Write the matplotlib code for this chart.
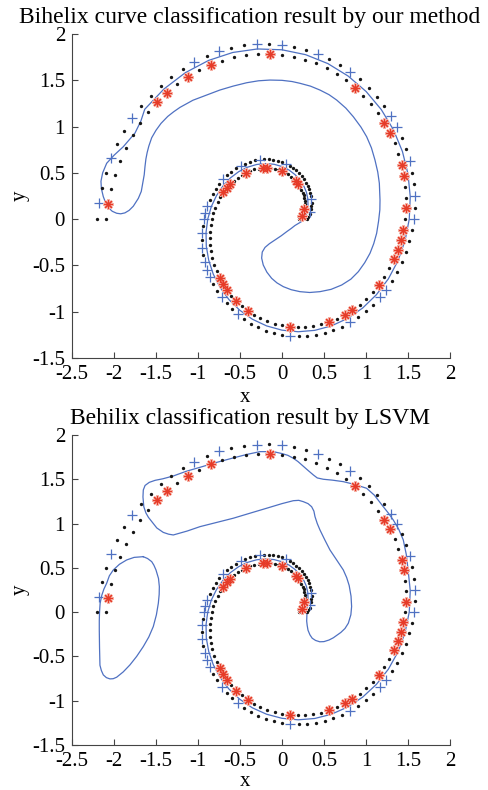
import matplotlib
matplotlib.use("Agg")
import matplotlib.pyplot as plt

# ---- data: the two spiral tracks ----
a_x = [0.300,0.315,0.328,0.338,0.345,0.350,0.352,0.350,0.345,0.337,
       0.324,0.308,0.288,0.264,0.237,0.206,0.171,0.133,0.091,0.047,
       0.000,-0.050,-0.101,-0.155,-0.210,-0.266,-0.323,-0.380,-0.437,-0.493,
       -0.548,-0.601,-0.653,-0.702,-0.747,-0.789,-0.827,-0.862,-0.891,-0.915,
       -0.933,-0.946,-0.953,-0.954,-0.948,-0.936,-0.916,-0.890,-0.858,-0.818,
       -0.772,-0.720,-0.660,-0.595,-0.524,-0.448,-0.367,-0.281,-0.190,-0.097,
       0.000,0.099,0.201,0.303,0.406,0.509,0.611,0.711,0.809,0.905,
       0.996,1.083,1.165,1.241,1.312,1.375,1.430,1.477,1.516,1.546,
       1.567,1.578,1.578,1.569,1.550,1.521,1.481,1.431,1.370,1.300,
       1.220,1.131,1.033,0.926,0.812,0.690,0.562,0.429,0.290,0.147,
       0.000,-0.149,-0.300,-0.451,-0.602,-0.751,-0.898,-1.042,-1.181,-1.316,
       -1.444,-1.565,-1.677,-1.781,-1.876,-1.960,-2.033,-2.093,-2.141,-2.177,
       -2.200]
a_y = [0.000,0.025,0.052,0.081,0.112,0.145,0.179,0.215,0.251,0.288,
       0.324,0.360,0.396,0.431,0.465,0.497,0.526,0.553,0.578,0.599,
       0.617,0.631,0.640,0.646,0.647,0.643,0.634,0.621,0.601,0.577,
       0.548,0.514,0.474,0.430,0.380,0.327,0.269,0.207,0.141,0.072,
       0.000,-0.074,-0.151,-0.229,-0.308,-0.388,-0.467,-0.545,-0.623,-0.699,
       -0.772,-0.843,-0.909,-0.971,-1.029,-1.082,-1.129,-1.170,-1.203,-1.230,
       -1.250,-1.262,-1.266,-1.262,-1.249,-1.228,-1.198,-1.160,-1.114,-1.059,
       -0.996,-0.925,-0.846,-0.761,-0.668,-0.569,-0.464,-0.355,-0.240,-0.122,
       0.000,0.124,0.250,0.377,0.504,0.630,0.755,0.877,0.995,1.110,
       1.220,1.324,1.421,1.512,1.593,1.667,1.731,1.785,1.829,1.862,
       1.883,1.893,1.891,1.878,1.852,1.814,1.762,1.700,1.626,1.541,
       1.444,1.336,1.219,1.092,0.956,0.812,0.660,0.502,0.339,0.171,
       0.000]
b_x = [0.206,0.221,0.234,0.246,0.256,0.263,0.267,0.269,0.269,0.264,
       0.257,0.246,0.232,0.214,0.193,0.169,0.141,0.110,0.076,0.040,
       0.000,-0.042,-0.086,-0.132,-0.180,-0.229,-0.279,-0.329,-0.380,-0.430,
       -0.479,-0.527,-0.574,-0.617,-0.659,-0.698,-0.733,-0.765,-0.793,-0.816,
       -0.834,-0.847,-0.855,-0.857,-0.853,-0.844,-0.828,-0.805,-0.777,-0.742,
       -0.701,-0.654,-0.601,-0.543,-0.479,-0.409,-0.336,-0.257,-0.175,-0.089,
       0.000,0.091,0.185,0.279,0.374,0.470,0.564,0.657,0.749,0.838,
       0.923,1.005,1.082,1.154,1.219,1.279,1.332,1.376,1.413,1.443,
       1.463,1.473,1.476,1.468,1.450,1.424,1.387,1.341,1.285,1.220,
       1.146,1.062,0.970,0.871,0.764,0.650,0.530,0.404,0.273,0.138,
       0.000,-0.141,-0.283,-0.426,-0.569,-0.710,-0.849,-0.986,-1.118,-1.246,
       -1.368,-1.483,-1.590,-1.689,-1.779,-1.859,-1.929,-1.988,-2.035,-2.069,
       -2.091]
b_y = [0.000,0.017,0.037,0.059,0.083,0.109,0.136,0.165,0.195,0.225,
       0.257,0.288,0.319,0.350,0.380,0.408,0.435,0.460,0.483,0.502,
       0.520,0.534,0.545,0.551,0.554,0.553,0.547,0.537,0.523,0.503,
       0.479,0.450,0.417,0.378,0.336,0.289,0.238,0.184,0.126,0.064,
       0.000,-0.067,-0.135,-0.206,-0.277,-0.349,-0.422,-0.493,-0.564,-0.634,
       -0.701,-0.766,-0.828,-0.886,-0.939,-0.989,-1.033,-1.071,-1.103,-1.129,
       -1.148,-1.160,-1.165,-1.163,-1.152,-1.134,-1.108,-1.073,-1.031,-0.981,
       -0.923,-0.858,-0.786,-0.707,-0.621,-0.530,-0.433,-0.330,-0.224,-0.114,
       0.000,0.116,0.234,0.352,0.471,0.590,0.707,0.822,0.933,1.042,
       1.146,1.243,1.336,1.421,1.499,1.569,1.630,1.682,1.724,1.756,
       1.777,1.786,1.786,1.774,1.750,1.714,1.667,1.609,1.539,1.458,
       1.368,1.266,1.155,1.035,0.907,0.770,0.627,0.477,0.322,0.163,
       0.000]

# indices of the points drawn as test markers
plus_idx = [3,7,19,25,29,33,38,39,40,42,44,46,47,48,51,54,61,68,72,73,
            80,82,85,88,89,94,97,100,102,105,107,113,116,119]
star_idx = [2,5,14,15,20,24,25,29,33,34,35,49,50,51,53,55,61,66,68,69,
            73,76,77,78,79,81,84,85,88,89,93,101,106,108,110,111,119]

# decision boundary of our method (one closed curve)
ours_x = [0.301,0.310,0.307,0.291,0.260,0.215,0.156,0.084,0.000,-0.094,
          -0.195,-0.301,-0.409,-0.514,-0.614,-0.703,-0.780,-0.842,-0.884,-0.904,
          -0.901,-0.872,-0.818,-0.737,-0.631,-0.502,-0.352,-0.183,0.000,0.193,
          0.390,0.588,0.779,0.960,1.124,1.266,1.381,1.465,1.515,1.527,
          1.500,1.434,1.328,1.183,1.002,0.788,0.546,0.282,0.000,-0.292,
          -0.586,-0.874,-1.150,-1.406,-1.634,
          -1.680,-1.750,-1.889,-2.000,-2.087,-2.135,-2.155,-2.150,-2.127,-2.100,
          -2.068,-2.020,-1.968,-1.920,-1.870,-1.820,-1.770,-1.710,-1.675,-1.658,
          -1.640,-1.631,-1.620,-1.605,-1.585,-1.551,-1.500,-1.440,-1.360,-1.290,
          -1.214,-1.060,-0.897,-0.740,-0.580,-0.420,-0.280,-0.143,0.000,0.120,
          0.214,0.340,0.452,0.560,0.651,0.760,0.849,0.940,1.008,1.065,
          1.107,1.140,1.159,1.167,1.165,1.150,1.127,1.092,1.048,0.985,
          0.909,0.820,0.711,0.585,0.452,0.330,0.214,0.110,0.016,-0.060,
          -0.123,-0.180,-0.223,-0.242,-0.235,-0.202,-0.150,-0.083,-0.010,0.056,
          0.110,0.155,0.200,0.240,0.270,0.290,0.301]
ours_y = [0.098,0.158,0.223,0.291,0.358,0.423,0.481,0.531,0.569,0.593,
          0.601,0.591,0.562,0.514,0.446,0.358,0.254,0.134,0.000,-0.143,
          -0.293,-0.445,-0.594,-0.737,-0.869,-0.984,-1.081,-1.153,-1.199,-1.216,
          -1.201,-1.153,-1.073,-0.960,-0.816,-0.645,-0.449,-0.232,0.000,0.242,
          0.488,0.731,0.964,1.183,1.379,1.546,1.681,1.777,1.830,1.839,
          1.801,1.715,1.583,1.406,1.187,
          1.060,0.930,0.783,0.690,0.604,0.500,0.410,0.330,0.243,0.180,
          0.125,0.085,0.064,0.058,0.068,0.095,0.140,0.225,0.300,0.388,
          0.480,0.567,0.650,0.720,0.790,0.880,0.960,1.035,1.110,1.160,
          1.208,1.285,1.341,1.395,1.438,1.474,1.495,1.503,1.500,1.487,
          1.468,1.437,1.395,1.345,1.287,1.200,1.107,0.995,0.891,0.770,
          0.639,0.510,0.388,0.207,0.100,-0.020,-0.152,-0.265,-0.368,-0.470,
          -0.567,-0.648,-0.711,-0.758,-0.783,-0.792,-0.783,-0.762,-0.729,-0.688,
          -0.639,-0.572,-0.495,-0.420,-0.355,-0.305,-0.265,-0.225,-0.180,-0.135,
          -0.100,-0.068,-0.043,-0.022,0.005,0.045,0.098]

# decision boundary of LSVM: main curve + separate blob
lsvm_x = [0.301,0.310,0.307,0.291,0.260,0.215,0.156,0.084,0.000,-0.094,
          -0.195,-0.301,-0.409,-0.514,-0.614,-0.703,-0.780,-0.842,-0.884,-0.904,
          -0.901,-0.872,-0.818,-0.737,-0.631,-0.502,-0.352,-0.183,0.000,0.193,
          0.390,0.588,0.779,0.960,1.124,1.266,1.381,1.465,1.515,1.527,
          1.500,1.480,1.444,1.390,1.325,1.265,1.206,1.100,1.008,0.870,
          0.730,0.600,0.492,0.420,0.373,0.310,0.250,0.190,0.135,0.070,
          0.000,-0.104,-0.262,-0.420,-0.583,-0.780,-0.976,-1.140,-1.294,-1.420,
          -1.510,-1.580,-1.630,-1.651,-1.655,-1.645,-1.620,-1.590,-1.550,-1.490,
          -1.413,-1.350,-1.294,-1.130,-0.976,-0.780,-0.580,-0.380,-0.182,0.000,
          0.135,0.200,0.254,0.310,0.353,0.380,0.393,0.420,0.452,0.510,
          0.571,0.650,0.730,0.770,0.800,0.822,0.829,0.820,0.790,0.750,
          0.700,0.611,0.560,0.500,0.450,0.400,0.360,0.333,0.310,0.300,
          0.294,0.296,0.298,0.301]
lsvm_y = [0.098,0.158,0.223,0.291,0.358,0.423,0.481,0.531,0.569,0.593,
          0.601,0.591,0.562,0.514,0.446,0.358,0.254,0.134,0.000,-0.143,
          -0.293,-0.445,-0.594,-0.737,-0.869,-0.984,-1.081,-1.153,-1.199,-1.216,
          -1.201,-1.153,-1.073,-0.960,-0.816,-0.645,-0.449,-0.232,0.000,0.242,
          0.488,0.650,0.815,0.935,1.040,1.120,1.190,1.320,1.398,1.440,
          1.473,1.490,1.500,1.515,1.549,1.600,1.650,1.700,1.737,1.770,
          1.790,1.812,1.812,1.780,1.740,1.690,1.635,1.590,1.537,1.505,
          1.488,1.465,1.430,1.379,1.300,1.190,1.120,1.070,1.022,0.950,
          0.900,0.880,0.871,0.915,0.965,1.012,1.060,1.117,1.173,1.225,
          1.258,1.262,1.247,1.225,1.190,1.140,1.078,1.000,0.928,0.815,
          0.702,0.590,0.476,0.390,0.300,0.180,0.063,-0.030,-0.125,-0.185,
          -0.230,-0.290,-0.315,-0.333,-0.335,-0.320,-0.295,-0.257,-0.205,-0.150,
          -0.100,-0.050,0.030,0.098]
blob_x = [-1.651,-1.760,-1.849,-1.935,-2.008,-2.055,-2.087,-2.120,-2.145,-2.165,
          -2.172,-2.175,-2.175,-2.172,-2.167,-2.150,-2.127,-2.090,-2.048,-2.010,
          -1.968,-1.890,-1.810,-1.730,-1.651,-1.585,-1.532,-1.495,-1.472,-1.462,
          -1.460,-1.470,-1.500,-1.525,-1.551,-1.600,-1.651]
blob_y = [0.626,0.618,0.589,0.540,0.476,0.410,0.326,0.260,0.190,0.100,
          0.000,-0.100,-0.200,-0.400,-0.600,-0.660,-0.709,-0.740,-0.754,-0.752,
          -0.735,-0.675,-0.596,-0.500,-0.389,-0.280,-0.163,-0.030,0.100,0.200,
          0.288,0.380,0.476,0.530,0.570,0.605,0.626]

x_ticks = [-2.5, -2, -1.5, -1, -0.5, 0, 0.5, 1, 1.5, 2]
x_tick_labels = ["-2.5", "-2", "-1.5", "-1", "-0.5", "0", "0.5", "1", "1.5", "2"]
y_ticks = [-1.5, -1, -0.5, 0, 0.5, 1, 1.5, 2]
y_tick_labels = ["-1.5", "-1", "-0.5", "0", "0.5", "1", "1.5", "2"]

titles = ["Bihelix curve classification result by our method",
          "Behilix classification result by LSVM"]

plt.rcParams["font.family"] = ["Liberation Serif", "DejaVu Serif"]

BLUE = "#4f71c2"
RED = "#e63b28"


def draw(ax, title, curves, tpad, xpad):
    dot_a = [i for i in range(len(a_x)) if i not in plus_idx]
    dot_b = [i for i in range(len(b_x)) if i not in star_idx]
    for xs, ys in curves:
        ax.plot(xs, ys, color=BLUE, lw=0.9, zorder=2)
    ax.plot([a_x[i] for i in dot_a], [a_y[i] for i in dot_a], "o", ms=2.4,
            color="#151515", mec="none", zorder=3)
    ax.plot([b_x[i] for i in dot_b], [b_y[i] for i in dot_b], "o", ms=2.4,
            color="#151515", mec="none", zorder=3)
    ax.plot([a_x[i] for i in plus_idx], [a_y[i] for i in plus_idx], "+", ms=7,
            mew=0.9, color=BLUE, zorder=4)
    sx = [b_x[i] for i in star_idx]
    sy = [b_y[i] for i in star_idx]
    ax.plot(sx, sy, linestyle="none", marker=(8, 2, 0), ms=7.5, mew=1.8,
            color="#f6b3a8", zorder=4)
    ax.plot(sx, sy, linestyle="none", marker=(8, 2, 0), ms=6.5, mew=0.8,
            color=RED, zorder=5)
    ax.set_xlim(-2.5, 2)
    ax.set_ylim(-1.5, 2)
    ax.set_xticks(x_ticks)
    ax.set_xticklabels(x_tick_labels)
    ax.set_yticks(y_ticks)
    ax.set_yticklabels(y_tick_labels)
    for s in ("top", "right"):
        ax.spines[s].set_visible(False)
    for s in ("left", "bottom"):
        ax.spines[s].set_color("#444444")
        ax.spines[s].set_linewidth(0.8)
    ax.tick_params(direction="in", length=4, width=0.8, colors="#444444",
                   labelcolor="black", labelsize=15, pad=5)
    ax.set_xlabel("x", fontsize=15, labelpad=xpad)
    ax.xaxis.label.set_x(0.458)
    ax.set_ylabel("y", fontsize=15, labelpad=2)
    ax.set_title(title, fontsize=17, pad=tpad, x=0.471)


fig = plt.figure(figsize=(4.88, 7.90), dpi=100)
ax1 = fig.add_axes([0.1475, 0.5468, 0.7746, 0.4101])
ax2 = fig.add_axes([0.1475, 0.0570, 0.7746, 0.3924])
draw(ax1, titles[0], [(ours_x, ours_y)], 8, 3)
draw(ax2, titles[1], [(lsvm_x, lsvm_y), (blob_x, blob_y)], 8, 0.5)
fig.savefig("out.png", dpi=100)
